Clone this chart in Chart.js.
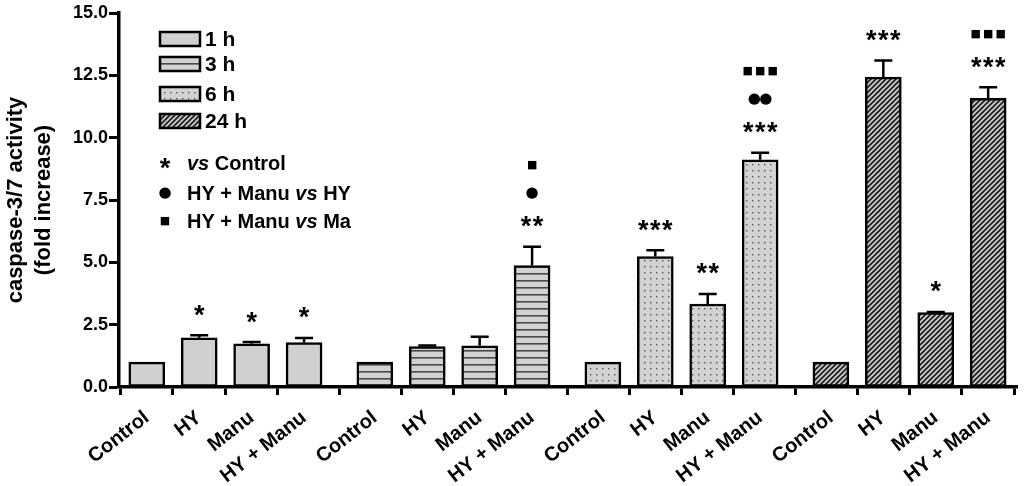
<!DOCTYPE html>
<html>
<head>
<meta charset="utf-8">
<script src="https://cdn.jsdelivr.net/npm/chart.js@4.4.0/dist/chart.umd.min.js"></script>
<style>
html, body { margin: 0; padding: 0; background: #fff; }
#wrap { width: 1024px; height: 486px; }
</style>
</head>
<body>
<div id="wrap"><canvas id="graph"></canvas></div>
<script>
// treatments shown in every time group
var categories = ['Control', 'HY', 'Manu', 'HY + Manu'];
var timeLabels = ['1 h', '3 h', '6 h', '24 h'];
var yTicks = [0, 2.5, 5, 7.5, 10, 12.5, 15];

// fold increase (mean) and SEM per time point
var values1h  = [1.00, 1.97, 1.73, 1.78];
var errors1h  = [0, 0.11, 0.07, 0.19];
var values3h  = [1.00, 1.62, 1.65, 4.87];
var errors3h  = [0, 0.04, 0.37, 0.76];
var values6h  = [1.00, 5.23, 3.33, 9.11];
var errors6h  = [0, 0.25, 0.40, 0.29];
var values24h = [1.00, 12.43, 2.98, 11.58];
var errors24h = [0, 0.66, 0.03, 0.44];

// significance marks (bottom row first)
var stars1h  = ['', '*', '*', '*'];
var stars3h  = ['', '', '', '**'];
var dots3h   = ['', '', '', '\u25CF'];
var sq3h     = ['', '', '', '\u25A0'];
var stars6h  = ['', '***', '**', '***'];
var dots6h   = ['', '', '', '\u25CF\u25CF'];
var sq6h     = ['', '', '', '\u25A0\u25A0\u25A0'];
var stars24h = ['', '***', '*', '***'];
var dots24h  = ['', '', '', ''];
var sq24h    = ['', '', '', '\u25A0\u25A0\u25A0'];

var GROUP_STEP = 4.35;
var FONT = 'Arial, "Liberation Sans", sans-serif';

function makePattern(kind)
{
    var p = document.createElement('canvas');
    var size = kind == 'lines' ? 7 : (kind == 'dots' ? 6 : 5);
    p.width = size; p.height = size;
    var c = p.getContext('2d');
    c.fillStyle = kind == 'hatch' ? '#cccccc' : '#d2d2d2';
    c.fillRect(0, 0, size, size);
    if (kind == 'lines') {
        c.fillStyle = '#4a4a4a';
        c.fillRect(0, 0, size, 1.6);
    } else if (kind == 'dots') {
        c.fillStyle = '#555';
        c.fillRect(2, 2, 1.4, 1.4);
    } else if (kind == 'hatch') {
        c.strokeStyle = '#1e1e1e';
        c.lineWidth = 1.7;
        c.beginPath();
        c.moveTo(-1, size + 1); c.lineTo(size + 1, -1);
        c.moveTo(-1, 1); c.lineTo(1, -1);
        c.moveTo(size - 1, size + 1); c.lineTo(size + 1, size - 1);
        c.stroke();
    }
    return c.createPattern(p, 'repeat');
}

var fills = ['#d0d0d0', makePattern('lines'), makePattern('dots'), makePattern('hatch')];

var groupValues = [values1h, values3h, values6h, values24h];
var groupErrors = [errors1h, errors3h, errors6h, errors24h];
var groupStars = [stars1h, stars3h, stars6h, stars24h];
var groupDots = [['', '', '', ''], dots3h, dots6h, dots24h];
var groupSq = [['', '', '', ''], sq3h, sq6h, sq24h];

var tickPos = [];
var tickNames = [];
var datasets = [];
function each(arr, fn) { for (var i = 0; i < arr.length; i++) fn(i, arr[i]); }

each(timeLabels, function(g, label) {
    var pts = [];
    each(categories, function(i, cat) {
        var x = g * GROUP_STEP + i;
        tickPos.push(x);
        tickNames.push(cat);
        pts.push({ x: x, y: groupValues[g][i] });
    });
    datasets.push({
        label: label,
        data: pts,
        errors: groupErrors[g],
        stars: groupStars[g],
        dots: groupDots[g],
        squares: groupSq[g],
        backgroundColor: fills[g],
        borderColor: '#000',
        borderWidth: 2.5,
        borderSkipped: false,
        barThickness: 36,
        grouped: false
    });
});

function drawSymbols(ctx, str, cx, cy, font, pitch)
{
    ctx.font = font;
    ctx.textAlign = 'center';
    ctx.textBaseline = 'alphabetic';
    var chars = str.split('');
    var m = ctx.measureText(chars[0]);
    var base = cy + (m.actualBoundingBoxAscent - m.actualBoundingBoxDescent) / 2;
    var start = cx - (chars.length - 1) * pitch / 2;
    each(chars, function(k, ch) {
        ctx.fillText(ch, start + k * pitch, base);
    });
}

var STAR_FONT = 'bold 27px ' + FONT;
var DOT_FONT = '15px "DejaVu Sans", sans-serif';
var SQ_FONT = '11px "DejaVu Sans", sans-serif';

var overlay = {
    id: 'overlay',
    afterDatasetsDraw: function(chart) {
        var ctx = chart.ctx;
        var yScale = chart.scales.y;
        ctx.save();
        ctx.fillStyle = '#000';
        ctx.strokeStyle = '#000';
        chart.data.datasets.forEach(function(ds, di) {
            var meta = chart.getDatasetMeta(di);
            meta.data.forEach(function(bar, i) {
                var v = ds.data[i].y;
                var top = yScale.getPixelForValue(v + ds.errors[i]);
                if (ds.errors[i] > 0) {
                    ctx.lineWidth = 2.5;
                    ctx.beginPath();
                    ctx.moveTo(bar.x, bar.y);
                    ctx.lineTo(bar.x, top);
                    ctx.moveTo(bar.x - 9, top);
                    ctx.lineTo(bar.x + 9, top);
                    ctx.stroke();
                }
                var yy = top - 25;
                var rows = [
                    [ds.stars[i], STAR_FONT, 12],
                    [ds.dots[i], DOT_FONT, 11.5],
                    [ds.squares[i], SQ_FONT, 12.5]
                ];
                rows.forEach(function(r) {
                    if (!r[0]) return;
                    drawSymbols(ctx, r[0], bar.x, yy, r[1], r[2]);
                    yy -= 28.5;
                });
            });
        });

        // legend for time points
        var lx = 160, ly = [32, 57, 87, 114];
        timeLabels.forEach(function(t, g) {
            ctx.fillStyle = fills[g];
            ctx.fillRect(lx, ly[g], 40, 14);
            ctx.lineWidth = 2.5;
            ctx.strokeStyle = '#000';
            ctx.strokeRect(lx, ly[g], 40, 14);
            ctx.fillStyle = '#000';
            ctx.font = 'bold 21px ' + FONT;
            ctx.textAlign = 'left';
            ctx.textBaseline = 'middle';
            ctx.fillText(t, 205, ly[g] + 8);
        });

        // legend for significance symbols
        var keyRows = [
            ['*', STAR_FONT, [['vs', 'italic bold'], [' Control', 'bold']], 163],
            ['\u25CF', DOT_FONT, [['HY + Manu ', 'bold'], ['vs', 'italic bold'], [' HY', 'bold']], 193],
            ['\u25A0', SQ_FONT, [['HY + Manu ', 'bold'], ['vs', 'italic bold'], [' Ma', 'bold']], 221]
        ];
        keyRows.forEach(function(r) {
            drawSymbols(ctx, r[0], 165, r[3], r[1], 10);
            var x = 187;
            ctx.textAlign = 'left';
            ctx.textBaseline = 'middle';
            r[2].forEach(function(part) {
                ctx.font = part[1] + ' 20px ' + FONT;
                ctx.fillText(part[0], x, r[3] + 1);
                x += ctx.measureText(part[0]).width;
            });
        });
        ctx.restore();
    }
};

var chart = new Chart(document.getElementById('graph'), {
    type: 'bar',
    data: { datasets: datasets },
    options: {
        responsive: true,
        maintainAspectRatio: false,
        animation: false,
        layout: { padding: { top: 13, right: 7, left: 0, bottom: 0 } },
        plugins: {
            legend: { display: false },
            tooltip: { enabled: false }
        },
        scales: {
            x: {
                type: 'linear',
                min: -0.53,
                max: 16.6,
                offset: false,
                afterBuildTicks: function(scale) {
                    scale.ticks = tickPos.map(function(p) { return { value: p }; });
                },
                afterFit: function(scale) { scale.height = 99; },
                ticks: {
                    autoSkip: false,
                    minRotation: 38,
                    maxRotation: 38,
                    padding: 11,
                    color: '#000',
                    font: { family: FONT, size: 20, weight: 'bold' },
                    callback: function(value) {
                        var idx = tickPos.indexOf(value);
                        return idx >= 0 ? tickNames[idx] : '';
                    }
                },
                grid: {
                    drawOnChartArea: false,
                    drawTicks: true,
                    tickLength: 8,
                    tickWidth: 3,
                    tickColor: '#000'
                },
                border: { color: '#000', width: 3.5 }
            },
            y: {
                min: 0,
                max: 15,
                afterBuildTicks: function(scale) {
                    scale.ticks = yTicks.map(function(v) { return { value: v }; });
                },
                afterFit: function(scale) { scale.width = 119; },
                ticks: {
                    padding: 1,
                    color: '#000',
                    font: { family: FONT, size: 18, weight: 'bold' },
                    callback: function(value) { return value.toFixed(1); }
                },
                grid: {
                    drawOnChartArea: false,
                    drawTicks: true,
                    tickLength: 10,
                    tickWidth: 3,
                    tickColor: '#000'
                },
                border: { color: '#000', width: 3.5 },
                title: {
                    display: true,
                    text: ['caspase-3/7 activity', '(fold increase)'],
                    color: '#000',
                    padding: { top: 2, bottom: 2 },
                    font: { family: FONT, size: 22, weight: 'bold', lineHeight: 1.27 }
                }
            }
        }
    },
    plugins: [overlay]
});
</script>
</body>
</html>
